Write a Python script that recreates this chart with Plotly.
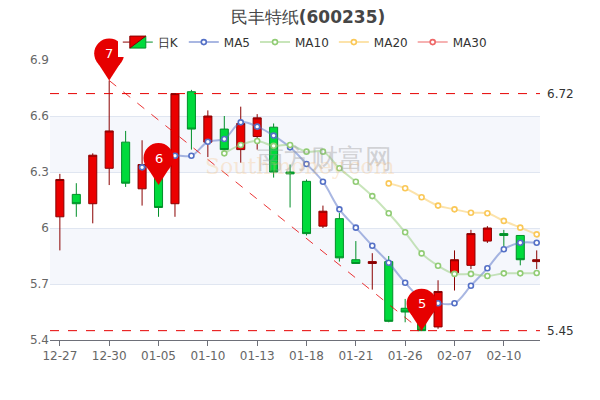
import plotly.graph_objs as go

dates = ["12-27", "12-28", "12-29", "12-30", "12-31", "01-04", "01-05", "01-06", "01-07", "01-10",
         "01-11", "01-12", "01-13", "01-14", "01-17", "01-18", "01-19", "01-20", "01-21", "01-24",
         "01-25", "01-26", "01-27", "01-28", "02-07", "02-08", "02-09", "02-10", "02-11", "02-14"]
opens = [6.06, 6.18, 6.13, 6.32, 6.46, 6.21, 6.35, 6.13, 6.73, 6.46, 6.53, 6.42, 6.49, 6.54, 6.30,
         6.25, 6.01, 6.05, 5.83, 5.81, 5.82, 5.57, 5.58, 5.47, 5.76, 5.80, 5.93, 5.97, 5.96, 5.82]
closes = [6.26, 6.13, 6.39, 6.52, 6.24, 6.34, 6.11, 6.72, 6.53, 6.60, 6.42, 6.56, 6.59, 6.30, 6.29,
          5.97, 6.09, 5.84, 5.81, 5.82, 5.50, 5.55, 5.45, 5.66, 5.83, 5.97, 6.00, 5.96, 5.83, 5.83]
highs = [6.29, 6.24, 6.40, 6.79, 6.52, 6.47, 6.39, 6.72, 6.74, 6.63, 6.60, 6.65, 6.61, 6.56, 6.34,
         6.26, 6.12, 6.08, 5.93, 5.865, 5.85, 5.62, 5.62, 5.72, 5.88, 5.99, 6.01, 5.99, 5.96, 5.88]
lows = [5.88, 6.06, 6.025, 6.23, 6.22, 6.12, 6.06, 6.06, 6.42, 6.38, 6.41, 6.35, 6.42, 6.27, 6.11,
        5.96, 6.00, 5.82, 5.81, 5.67, 5.495, 5.495, 5.45, 5.46, 5.665, 5.78, 5.92, 5.90, 5.80, 5.78]

ma5 = [None] * 5 + [6.325, 6.34, 6.387, 6.387, 6.462, 6.477, 6.566, 6.543, 6.495, 6.432, 6.343, 6.248,
                    6.10, 6.002, 5.905, 5.814, 5.707, 5.62, 5.597, 5.597, 5.691, 5.784, 5.886, 5.921, 5.921]
ma10 = [None] * 10 + [6.40, 6.445, 6.466, 6.44, 6.445, 6.409, 6.409, 6.32, 6.248, 6.171, 6.079, 5.977,
                      5.864, 5.798, 5.754, 5.754, 5.743, 5.757, 5.757, 5.759]
ma20 = [None] * 20 + [6.239, 6.213, 6.165, 6.12, 6.10, 6.082, 6.079, 6.038, 6.002, 5.966]

pin_idx = [3, 6, 22]
pin_val = [6.79, 6.23, 5.45]
pin_text = ["7", "6", "5"]
ref_high = 6.72
ref_low = 5.45

y_min, y_max = 5.4, 6.9
x = list(range(len(dates)))
fig = go.Figure()

# background bands
for y0, y1 in [(6.3, 6.6), (5.7, 6.0)]:
    fig.add_shape(type="rect", xref="paper", x0=0, x1=1, y0=y0, y1=y1,
                  fillcolor="#f5f7fc", line_width=0, layer="below")

fig.add_trace(go.Candlestick(
    x=x, open=opens, high=highs, low=lows, close=closes, name="日K",
    increasing=dict(line=dict(color="#8a0000", width=1), fillcolor="#eb0000"),
    decreasing=dict(line=dict(color="#008f28", width=1), fillcolor="#00da3c"),
    whiskerwidth=0, hoverinfo="skip"))

for name, vals, col, lcol in [("MA5", ma5, "#5470c6", "rgba(84,112,198,0.5)"),
                              ("MA10", ma10, "#91cc75", "rgba(145,204,117,0.5)"),
                              ("MA20", ma20, "#fac858", "rgba(250,200,88,0.5)"),
                              ("MA30", [None] * len(x), "#ee6666", "rgba(238,102,102,0.5)")]:
    fig.add_trace(go.Scatter(
        x=x, y=vals, name=name, mode="lines+markers",
        line=dict(color=lcol, width=2, shape="spline"),
        marker=dict(size=5, color="white", line=dict(color=col, width=1.6))))

# trend line
fig.add_trace(go.Scatter(x=[pin_idx[0], pin_idx[2]], y=[pin_val[0], pin_val[2]], mode="lines",
                         line=dict(color="#e60000", width=0.8, dash="dash"), showlegend=False))

# pins: pointer triangle + circle head, pixel sized, anchored at the data point (paper y so not clipped)
for i, v, t in zip(pin_idx, pin_val, pin_text):
    py = (v - y_min) / (y_max - y_min)
    fig.add_shape(type="path", xref="x", yref="paper", xsizemode="pixel", ysizemode="pixel",
                  xanchor=i, yanchor=py, path="M0,0 L-11,17 L11,17 Z",
                  fillcolor="#e60000", line_width=0)
    fig.add_shape(type="circle", xref="x", yref="paper", xsizemode="pixel", ysizemode="pixel",
                  xanchor=i, yanchor=py, x0=-15, x1=15, y0=12, y1=42,
                  fillcolor="#e60000", line_width=0)
    fig.add_annotation(x=i, y=v, text=t, showarrow=False, yshift=27,
                       font=dict(color="white", size=13))

for v in [ref_high, ref_low]:
    fig.add_shape(type="line", xref="paper", x0=0, x1=1, y0=v, y1=v,
                  line=dict(color="#e60000", width=1, dash="dash"))
    fig.add_annotation(xref="paper", x=1.01, y=v, text=f"{v:.2f}", showarrow=False,
                       xanchor="left", font=dict(size=12, color="#333"))

fig.add_annotation(xref="paper", yref="paper", x=0.56, y=0.71, text="南方财富网", showarrow=False,
                   font=dict(size=27, color="rgba(150,150,150,0.4)"))
fig.add_annotation(xref="paper", yref="paper", x=0.51, y=0.62, text="Southmoney.com", showarrow=False,
                   font=dict(size=22, color="rgba(245,190,120,0.3)", family="DejaVu Serif"))

fig.update_layout(
    width=600, height=400, margin=dict(l=42, r=68, t=52, b=68, autoexpand=False),
    paper_bgcolor="white", plot_bgcolor="white",
    font=dict(family="DejaVu Sans", color="#666", size=12),
    title=dict(text="民丰特纸<b>(600235)</b>", x=0.5, y=0.978, xanchor="center", yanchor="middle",
               font=dict(size=17, color="#464646")),
    legend=dict(orientation="h", x=0.52, xanchor="center", y=1.064, yanchor="middle",
                font=dict(size=12, color="#333"), itemwidth=30),
    xaxis=dict(range=[-0.6, 29.2], tickvals=x[::3], ticktext=dates[::3], rangeslider_visible=False,
               showgrid=False, showline=True, linecolor="#6e7079", ticks="outside", ticklen=5,
               tickcolor="#6e7079", zeroline=False),
    yaxis=dict(range=[y_min, y_max], tickvals=[5.4, 5.7, 6.0, 6.3, 6.6, 6.9],
               ticktext=["5.4", "5.7", "6", "6.3", "6.6", "6.9"], gridcolor="#e0e6f1",
               zeroline=False),
    showlegend=True, hovermode=False,
)
fig.write_html("out.html")
